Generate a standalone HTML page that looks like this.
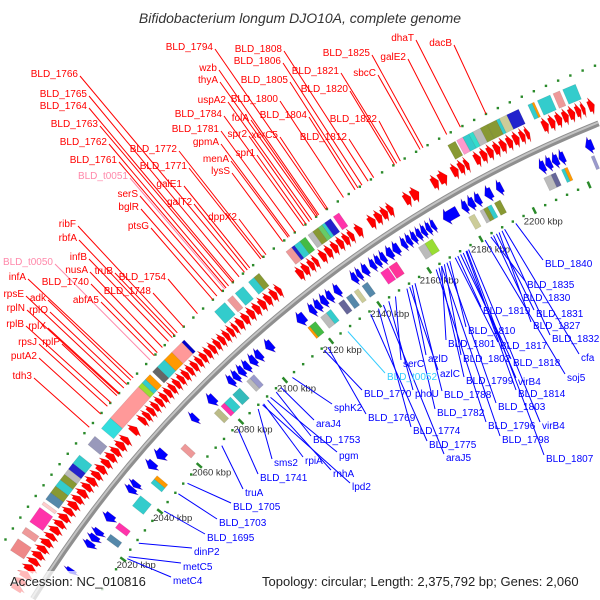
<!DOCTYPE html>
<html><head><meta charset="utf-8"><style>
html,body{margin:0;padding:0;background:#fff;overflow:hidden;width:600px;height:600px;}
svg{display:block;font-family:"Liberation Sans",sans-serif;overflow:hidden;}
</style></head><body>
<svg id="chart" width="600" height="600" viewBox="0 0 600 600" xmlns="http://www.w3.org/2000/svg">
<g id="rings"></g>
<rect x="0" y="571" width="600" height="29" fill="#fff" fill-opacity="0.72"/>
<g id="leaders"></g>
<g id="labels"></g>
<text x="300" y="23" text-anchor="middle" font-size="14" font-style="italic" fill="#333">Bifidobacterium longum DJO10A, complete genome</text>
<text x="10" y="586" font-size="13" fill="#222">Accession: NC_010816</text>
<text x="262" y="586" font-size="13" fill="#222">Topology: circular; Length: 2,375,792 bp; Genes: 2,060</text>
</svg>
<script>
// ---- data (kbp) ----
const tickKbp = [2020,2040,2060,2080,2100,2120,2140,2160,2180,2200];
const tickLabels = ["2020 kbp","2040 kbp","2060 kbp","2080 kbp","2100 kbp","2120 kbp","2140 kbp","2160 kbp","2180 kbp","2200 kbp"];
const redGenes = [[1992.6,1994.6],[1995,1997],[1997.3,1999.5],[1999.8,2002],[2002.3,2004.3],[2004.6,2006.8],[2007,2009],[2009.3,2011.5],[2011.8,2013.6],[2014,2016.2],[2016.5,2018.5],[2018.8,2021],[2021.3,2023.3],[2023.6,2025.8],[2026,2028],[2028.3,2030.5],[2030.8,2032.8],[2033,2035.2],[2035.5,2037.5],[2037.8,2040],[2040.3,2042.3],[2042.6,2044.8],[2045,2047],[2047.3,2049.5],[2049.7,2051.6],[2053.7,2055.8],
[2057.9,2059.6],[2059.9,2061.5],[2061.8,2063.5],[2063.8,2065.4],[2065.7,2067.4],[2067.7,2069.3],[2069.6,2071.3],[2071.6,2073.2],[2073.5,2075.2],[2075.5,2077.1],[2077.4,2079.1],[2079.4,2081],[2081.3,2083],[2083.3,2084.9],[2085.2,2086.9],[2087.2,2088.8],[2089.1,2090.8],[2091.1,2092.7],[2093,2094.7],[2095,2096.6],[2096.9,2098.5],[2098.8,2100],
[2100.5,2102.5],[2102.8,2104.8],[2105.1,2107.1],[2107.4,2109.4],[2109.7,2111.7],[2112,2114],[2114.3,2116.2],[2116.5,2118],
[2124.8,2126.8],[2127,2129],[2129.3,2131],[2131.2,2132.6],[2133.7,2135.7],[2136,2138],[2138.3,2140.2],[2140.5,2142.4],[2142.7,2144.5],[2144.7,2146.3],[2147.4,2149.5],
[2152.2,2154.4],[2154.7,2156.8],[2157,2159],[2159.2,2161],[2165.3,2167.5],[2167.8,2170.5],[2175.3,2177.5],[2177.8,2180.6],[2182.5,2184.6],[2184.9,2186.8],[2187,2188.4],
[2190.5,2192.5],[2192.8,2194.8],[2195,2197],[2197.3,2199.3],[2199.5,2201.5],[2201.8,2203.7],[2204,2206],[2206.3,2208],[2208.2,2209.5],
[2214,2216],[2216.3,2218.3],[2218.6,2220.6],[2220.9,2222.8],[2223,2225],[2225.3,2227],[2227.2,2228.4],[2229.5,2231.5],[2231.8,2233.8],[2234,2235.8]];
const blueGenes = [[2006.3,2007.9],[2016.4,2018.5],[2018.8,2021],[2021.2,2023.2],[2026.8,2029.5],[2038.4,2040.5],[2040.7,2042.6],[2048.4,2051],[2052.6,2055.8],[2069,2071],[2076.8,2079.5],[2085.8,2087.8],[2088,2090],[2090.3,2092.4],[2092.6,2094.7],[2095.3,2097.5],[2097.7,2100],[2102.1,2104.7],[2115.3,2118.4],[2120.4,2122.4],[2122.6,2124.8],[2125,2127.2],[2127.4,2129.5],[2130.5,2132.6],[2137.4,2139.3],[2139.5,2141.1],[2141.6,2143.7],[2144.7,2146.5],[2146.7,2148.5],[2148.7,2150.5],[2151,2153.3],[2153.5,2155.8],[2156.8,2158.5],[2158.7,2160.4],[2160.6,2162.3],[2162.5,2164.2],[2164.4,2166],[2166.2,2167.8],[2168,2169.5],[2172.6,2177.9],[2179.5,2181.5],[2181.7,2184],[2184.2,2186.3],[2187.9,2190.5],[2192.1,2194.2],[2207.4,2209.5],[2209.7,2211.8],[2212,2214.2],[2214.4,2216.4],[2223.7,2226.3]];
const outerBoxes = [[1987.4,1990.5,"#f3c"],[1992.6,1995.8,"#3cc"],[2002.1,2006.3,"#e88"],[2008.4,2010.5,"#e99"],[2012.6,2017.9,"#f3a"],[2019,2020,"#fcc"],[2021,2023.5,"#58a"],[2023.5,2026,"#893"],[2026,2028.4,"#3cc"],[2028.4,2030.5,"#893"],[2030.5,2032.5,"#bbb"],[2032.5,2034.7,"#22c"],[2034.7,2037.9,"#3cc"],[2042,2045.3,"#99b"],[2048.4,2052.6,"#3dd"],[2052.6,2065.4,"#f99"],[2065.4,2067,"#9d3"],[2067,2068.5,"#3cc"],[2068.5,2070.5,"#f90"],[2071.6,2073.7,"#666"],[2073.7,2076.8,"#3cc"],[2076.8,2080,"#f90"],[2080,2084.3,"#f99"],[2084.3,2085.3,"#00c"],[2097.9,2102.1,"#3cc"],[2103.2,2105.3,"#e99"],[2106.3,2109.5,"#3cc"],[2111.6,2113.8,"#3cc"],[2113.8,2115.8,"#893"],[2126.3,2128.5,"#e99"],[2128.5,2129.5,"#22c"],[2129.5,2131.6,"#3cc"],[2131.6,2133.7,"#4b4"],[2134.7,2136.5,"#bbb"],[2136.5,2138.5,"#893"],[2138.5,2140,"#6c6"],[2140,2141,"#3cc"],[2141,2143.2,"#22c"],[2144.2,2146.3,"#f3a"],[2185.3,2187.9,"#893"],[2188.4,2190.5,"#f9c"],[2190.5,2192.6,"#3cc"],[2192.6,2194,"#3dc"],[2194,2196.5,"#bbb"],[2196.5,2198.9,"#893"],[2198.9,2202,"#893"],[2202,2203,"#3cc"],[2203,2205.5,"#cc9"],[2205.5,2209.5,"#22c"],[2212.6,2214,"#3cc"],[2214,2214.7,"#f90"],[2215.8,2220,"#3cc"],[2221,2223.2,"#e99"],[2224.2,2228.4,"#3cc"],[2231.6,2235.8,"#3cc"]];
const innerBoxes = [[2022.1,2024.2,"#58a"],[2026.8,2028.9,"#f3a"],[2035.8,2040,"#3cc"],[2045.3,2047,"#3cc"],[2047,2048.4,"#f90"],[2060,2062.1,"#e99"],[2075.8,2077.9,"#bb8"],[2078.9,2080.5,"#f3a"],[2080.5,2083.2,"#3cc"],[2084.2,2087.4,"#3bb"],[2090.5,2092,"#bbb"],[2092,2093.7,"#99c"],[2116.8,2117.6,"#f90"],[2117.6,2120,"#4b4"],[2122.1,2124.5,"#bbb"],[2124.5,2126.3,"#3cc"],[2129.5,2131.6,"#669"],[2132.6,2134.7,"#58a"],[2135.8,2137.4,"#cc9"],[2138.9,2141.1,"#58a"],[2146.3,2149.2,"#f3a"],[2149.6,2152.6,"#f39"],[2161,2163.5,"#bbb"],[2163.5,2166.3,"#9d3"],[2180,2182.1,"#cc9"],[2184.2,2185.5,"#bbb"],[2185.5,2187,"#893"],[2187,2188.4,"#3cc"],[2189.5,2191.6,"#893"],[2207.4,2210,"#bbb"],[2210,2211.6,"#669"],[2213.7,2214.8,"#3cc"],[2214.8,2215.8,"#f90"],[2224.2,2225.3,"#99c"]];
const redNames = ["BLD_1794","BLD_1808","BLD_1806","BLD_1805","BLD_1825","galE2","dhaT","dacB","sbcC","BLD_1821","BLD_1820","BLD_1822","BLD_1812","wzb","thyA","uspA2","BLD_1800","BLD_1804","BLD_1784","folA","BLD_1781","spr2","xerC5","gpmA","spr1","menA","lysS","BLD_1766","BLD_1765","BLD_1764","BLD_1763","BLD_1762","BLD_1772","BLD_1761","BLD_1771","BLD_t0051","galE1","serS","galT2","bglR","dppX2","ptsG","ribF","rbfA","BLD_t0050","infB","nusA","truB","BLD_1754","infA","BLD_1740","BLD_1748","rpsE","adk","abfA5","rplN","rplO","rplB","rplX","rpsJ","rplP","putA2","tdh3"];
const redKbp = [2143.7,2159,2156.8,2155.3,2178.4,2186.6,2191.3,2200,2177.4,2169.2,2168.4,2170.5,2161,2141,2140,2138.4,2150.1,2154.3,2135.3,2140.5,2132.1,2137.5,2144.2,2130,2136.2,2129.5,2127.4,2112.6,2110.5,2108.4,2107.9,2106.3,2119.7,2105.3,2119,2104.8,2114.7,2103.7,2113.7,2101.6,2121,2100,2085.3,2083.2,2073.7,2081.6,2079,2084.2,2093.7,2066.3,2076.8,2087.9,2062.1,2065.3,2075.5,2059.7,2063.5,2056.2,2060,2054.7,2059,2051.6,2046.3];
const blueNames = ["BLD_1840","BLD_1835","BLD_1830","BLD_1819","BLD_1831","BLD_1827","BLD_1810","BLD_1832","BLD_1801","BLD_1817","cfa","BLD_1802","BLD_1818","azlD","serC","azlC","BLD_t0052","soj5","BLD_1799","virB4","BLD_1770","phoU","BLD_1788","BLD_1814","sphK2","BLD_1803","BLD_1782","BLD_1769","araJ4","BLD_1796","virB4","BLD_1774","BLD_1753","BLD_1798","BLD_1775","pgm","BLD_1807","araJ5","rpiA","sms2","rnhA","lpd2","BLD_1741","truA","BLD_1705","BLD_1703","BLD_1695","dinP2","metC5","metC4"];
const blueKbp = [2192.6,2183.2,2184.2,2170.5,2185.3,2186.3,2167.4,2187.4,2164.2,2169.5,2188.4,2165.3,2171.6,2152.6,2145.9,2151.6,2126.3,2181,2163.2,2172.6,2116.3,2143.2,2153.7,2173.7,2102.4,2166.3,2150.5,2117.9,2097.4,2162.1,2174.7,2139,2095.2,2164.2,2135.8,2092.6,2174,2141,2089.5,2087,2091.3,2089,2077.6,2069.9,2053,2048.4,2041,2027.4,2021.8,2021];
// ---- layout (label anchor positions, px) ----
const redPos = [[213,46],[282,48],[281,60],[288,79],[370,52],[406,56],[414,37],[452,42],[376,72],[339,70],[348,88],[377,118],[347,136],[217,67],[218,79],[226,99],[278,98],[307,114],[222,113],[249,117],[219,128],[247,133],[278,134],[219,141],[255,152],[229,158],[230,170],[78,73],[87,93],[87,105],[98,123],[107,141],[177,148],[117,159],[187,165],[128,175],[182,183],[138,193],[192,201],[139,206],[237,216],[149,225],[76,223],[77,237],[53,261],[87,256],[88,269],[113,270],[166,276],[26,276],[89,281],[151,290],[24,293],[46,297],[99,299],[25,307],[48,309],[24,323],[46,325],[37,341],[60,341],[37,355],[32,375]];
const bluePos = [[545,263],[527,284],[523,297],[483,310],[536,313],[533,325],[468,330],[552,338],[448,343],[500,345],[581,357],[463,358],[513,362],[428,358],[403,363],[440,373],[387,376],[567,377],[466,380],[518,381],[364,393],[415,393],[444,394],[518,393],[334,407],[498,406],[437,412],[368,417],[316,423],[488,425],[542,425],[413,430],[313,439],[502,439],[429,444],[339,455],[546,458],[446,457],[305,460],[274,462],[333,473],[352,486],[260,477],[245,492],[233,506],[219,522],[207,537],[194,551],[183,566],[173,580]];

const NS="http://www.w3.org/2000/svg";
const CX=1044, CY=1228, R=1191;
function ang(k){ return (35.98 + (k-2020)*0.1523)*Math.PI/180; }
function pt(k,r){ const a=ang(k); return [CX - r*Math.cos(a), CY - r*Math.sin(a)]; }
function inside(ps){ return ps.every(p=>p[0]>=0 && p[0]<=600 && p[1]>=0 && p[1]<=600); }
function mk(tag, attrs, parent){ const e=document.createElementNS(NS,tag); for(const k in attrs) e.setAttribute(k,attrs[k]); parent.appendChild(e); return e; }
const rings=document.getElementById('rings'), leaders=document.getElementById('leaders'), labels=document.getElementById('labels');
function f(p){ return p[0].toFixed(1)+","+p[1].toFixed(1); }

// backbone
{
  const a=pt(1993.2,R), b=pt(2230.5,R);
  const bb = mk('path',{d:`M${f(a)} A${R} ${R} 0 0 1 ${f(b)}`, fill:'none', stroke:'#8f8f8f','stroke-width':6}, rings);
  
  
  const a2=pt(1993.2,R+1), b2=pt(2230.5,R+1);
  const hl = mk('path',{d:`M${f(a2)} A${R+1} ${R+1} 0 0 1 ${f(b2)}`, fill:'none', stroke:'#c4c4c4','stroke-width':2}, rings);
  
  
}
// scale dots
for(let k=1976;k<=2248;k+=4){
  for(const side of [1,-1]){
    const r = side>0 ? R+55 : R-53;
    const isDash = side<0 ? (k%20===0) : ((k+10)%20===0);
    if(isDash){
      const p1=pt(k,r-3.5), p2=pt(k,r+3.5);
      if(!inside([p1,p2])) continue;
      const d=mk('line',{x1:p1[0],y1:p1[1],x2:p2[0],y2:p2[1],stroke:'#2a8a2a','stroke-width':2.5}, rings);
      
      
    } else {
      const p=pt(k,r);
      if(!inside([[p[0]-2,p[1]-2],[p[0]+2,p[1]+2]])) continue;
      const d=mk('rect',{x:p[0]-1.2,y:p[1]-1.2,width:2.4,height:2.4,fill:'#2a8a2a'}, rings);
      
      
    }
  }
}
// boxes
function box(k0,k1,r0,r1,col,name){
  const ps=[pt(k0,r0),pt(k0,r1),pt(k1,r1),pt(k1,r0)];
  if(!inside(ps)) return;
  const e=mk('polygon',{points:ps.map(f).join(' '),fill:col,stroke:'rgba(0,0,0,0.12)','stroke-width':0.6}, rings);
  
  
}
outerBoxes.forEach(b=>box(b[0],b[1],R+29,R+45,b[2],'outer-feature-box'));
innerBoxes.forEach(b=>box(b[0],b[1],R-42,R-28,b[2],'inner-feature-box'));
// arrows
function arrow(k0,k1,r0,r1,dir,col,name){
  const len=k1-k0, head=Math.min(len*0.65,1.7), inset=(r1-r0)*0.2, rm=(r0+r1)/2;
  let pts;
  if(dir>0){
    const kh=k1-head;
    pts=[pt(k0,r0+inset),pt(k0,r1-inset),pt(kh,r1-inset),pt(kh,r1),pt(k1,rm),pt(kh,r0),pt(kh,r0+inset)];
  } else {
    const kh=k0+head;
    pts=[pt(k1,r0+inset),pt(k1,r1-inset),pt(kh,r1-inset),pt(kh,r1),pt(k0,rm),pt(kh,r0),pt(kh,r0+inset)];
  }
  if(!inside(pts)) return;
  const e=mk('polygon',{points:pts.map(f).join(' '),fill:col,stroke:'rgba(120,0,0,0.25)','stroke-width':0.5}, rings);
  
  
}
redGenes.forEach(g=>arrow(g[0],g[1],R+10,R+28,1,'#f00','forward-gene'));
blueGenes.forEach(g=>arrow(g[0],g[1],R-26,R-8,-1,'#00f','reverse-gene'));
// tick labels
tickKbp.forEach((k,i)=>{
  const p=pt(k+1,R-67);
  const t=mk('text',{x:p[0].toFixed(1),y:(p[1]+3).toFixed(1),'text-anchor':'middle','font-size':'9.5',fill:'#333'}, rings);
  t.textContent=tickLabels[i];
  
  
});
// red labels
redNames.forEach((n,i)=>{
  const pos=redPos[i], isT=n.indexOf('_t')>0;
  const col=isT?'#f8a':'#f00';
  const e=pt(redKbp[i],R+55);
  const l=mk('line',{x1:pos[0]+2,y1:pos[1]+3,x2:e[0].toFixed(1),y2:e[1].toFixed(1),stroke:col,'stroke-width':1}, leaders);
  
  
  const t=mk('text',{x:pos[0],y:pos[1]+4,'text-anchor':'end','font-size':'10',fill:col}, labels);
  t.textContent=n;
  
  
});
// blue labels
blueNames.forEach((n,i)=>{
  const pos=bluePos[i], isT=n.indexOf('_t')>0;
  const col=isT?'#3cf':'#00f';
  const s=pt(blueKbp[i],R-56);
  const l=mk('line',{x1:s[0].toFixed(1),y1:s[1].toFixed(1),x2:pos[0]-2,y2:pos[1]-3,stroke:col,'stroke-width':1}, leaders);
  
  
  const t=mk('text',{x:pos[0],y:pos[1]+4,'text-anchor':'start','font-size':'10',fill:col}, labels);
  t.textContent=n;
  
  
});
</script>
</body></html>
